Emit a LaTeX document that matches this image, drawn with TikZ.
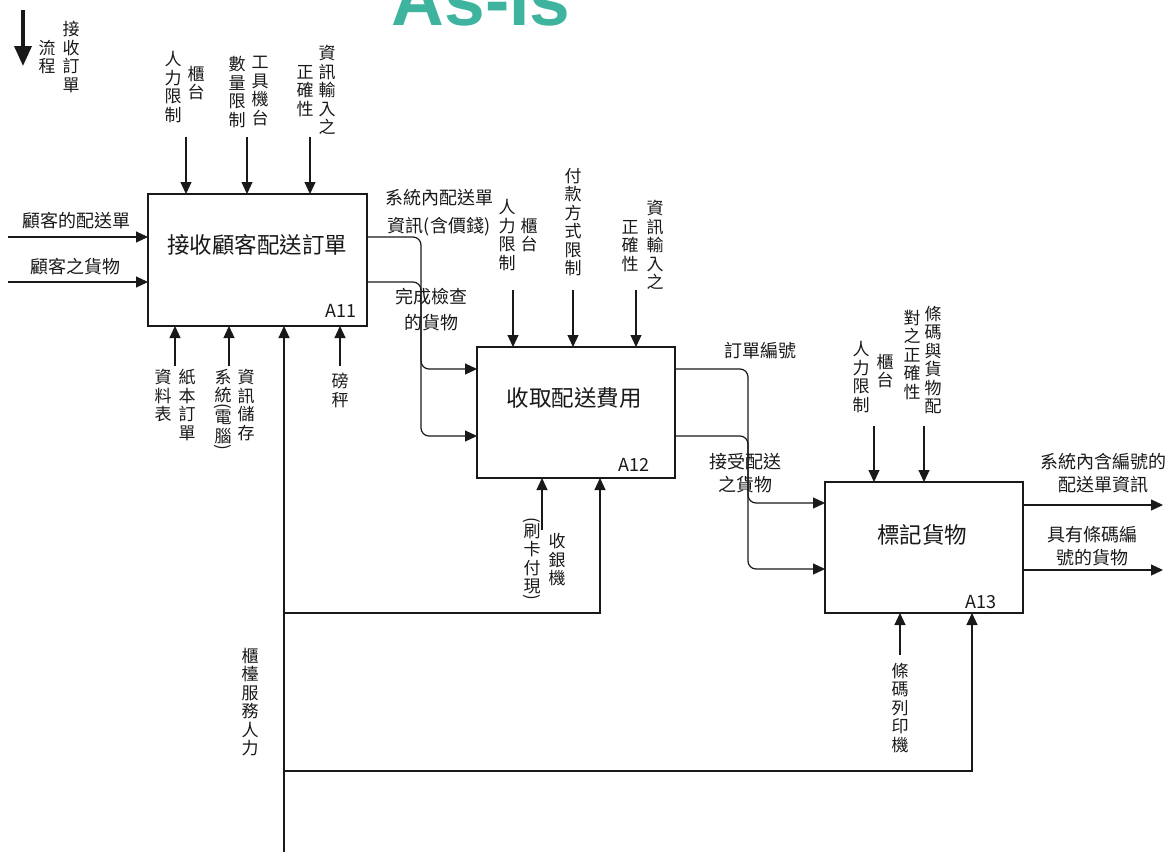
\documentclass[tikz,border=0pt]{standalone}
\usepackage{fontspec}
\usepackage{graphicx}
\setmainfont{Noto Sans CJK TC}
\newfontfamily\titlefamily{Liberation Sans}
\usetikzlibrary{arrows.meta}
\definecolor{teal1}{RGB}{62,180,158}
\definecolor{ink}{RGB}{25,25,25}
\newcommand\vfont{\fontsize{17}{18.5}\selectfont}
\newcommand\hfont{\fontsize{18}{23}\selectfont}
\newcommand\vpar[1]{\rotatebox[origin=c]{-90}{#1}}
\begin{document}
\begin{tikzpicture}[x=1pt,y=-1pt,
  flow/.style={draw=ink,line width=1.2pt,-{Triangle[length=12pt,width=11pt]}},
  rc/.style={rounded corners=8pt},
  box/.style={draw=ink,line width=1.8pt,rectangle,inner sep=0pt,outer sep=0pt,fill=white,minimum width=198pt,minimum height=131pt},
  vt/.style={font=\vfont,align=center,inner sep=0pt,text=ink},
  hl/.style={font=\hfont,align=center,inner sep=0pt,text=ink},
  ttl/.style={font=\fontsize{22.5}{26}\selectfont,inner sep=0pt,text=ink},
  idl/.style={font=\fontsize{18}{20}\selectfont,inner sep=0pt,text=ink,anchor=east}]
\useasboundingbox (0,0) rectangle (1173,852);

% title
\node[font=\titlefamily\bfseries\fontsize{73}{80}\selectfont,text=teal1,anchor=base,inner sep=0pt] (title) at (481,25) {As-Is};

% flow indicator
\coordinate (f1) at (23,10);
\coordinate (f2) at (23,66);
\draw[draw=ink,line width=3.5pt,-{Triangle[length=20pt,width=17pt]}] (f1) -- (f2);
\node[vt] (fl1) at (71,57) {接\\收\\訂\\單};
\node[vt] (fl2) at (47,57) {流\\程};

% boxes
\node[box,minimum width=219pt,minimum height=132pt] (A11) at (257.5,260) {};
\node[box] (A12) at (576,412.5) {};
\node[box] (A13) at (924,547.5) {};
\node[ttl] (t11) at (257,245) {接收顧客配送訂單};
\node[ttl] (t12) at (574,398) {收取配送費用};
\node[ttl] (t13) at (922,535) {標記貨物};
\node[idl] (id11) at (357,311) {A11};
\node[idl] (id12) at (650,465) {A12};
\node[idl] (id13) at (997,602) {A13};

% inputs to A11
\coordinate (in1) at (8,237);
\coordinate (in2) at (8,282);
\draw[flow] (in1) -- (in1 -| A11.west);
\draw[flow] (in2) -- (in2 -| A11.west);
\node[hl] (li1) at (76,221) {顧客的配送單};
\node[hl] (li2) at (75,267) {顧客之貨物};

% controls A11
\coordinate (c11) at (186,137);
\coordinate (c12) at (247,137);
\coordinate (c13) at (310,137);
\draw[flow] (c11) -- (c11 |- A11.north);
\draw[flow] (c12) -- (c12 |- A11.north);
\draw[flow] (c13) -- (c13 |- A11.north);
\node[vt] (a11c1a) at (196,83) {櫃\\台};
\node[vt] (a11c1b) at (173,87) {人\\力\\限\\制};
\node[vt] (a11c2a) at (260,91) {工\\具\\機\\台};
\node[vt] (a11c2b) at (237,92) {數\\量\\限\\制};
\node[vt] (a11c3a) at (327,90) {資\\訊\\輸\\入\\之};
\node[vt] (a11c3b) at (305,91) {正\\確\\性};

% mechanisms A11
\coordinate (m11) at (175,366);
\coordinate (m12) at (229,366);
\coordinate (m14) at (340,366);
\draw[flow] (m11) -- (m11 |- A11.south);
\draw[flow] (m12) -- (m12 |- A11.south);
\draw[flow] (m14) -- (m14 |- A11.south);
\node[vt,anchor=north] (a11m1a) at (187,369) {紙\\本\\訂\\單};
\node[vt,anchor=north] (a11m1b) at (163,369) {資\\料\\表};
\node[vt,anchor=north] (a11m2a) at (246,369) {資\\訊\\儲\\存};
\node[vt,anchor=north] (a11m2b) at (223,369) {系\\統\\[-8.5pt]\vpar{(}\\[-6.5pt]電\\腦\\[-8.5pt]\vpar{)}};
\node[vt,anchor=north] (a11m4) at (340,373) {磅\\秤};

% staff line
\coordinate (staff) at (284,852);
\coordinate (sj1) at (284,613);
\coordinate (sj2) at (284,771);
\coordinate (k12) at (600,0);
\coordinate (k13) at (972,0);
\draw[flow] (staff) -- (staff |- A11.south);
\draw[flow] (sj1) -- (k12 |- sj1) -- (k12 |- A12.south);
\draw[flow] (sj2) -- (k13 |- sj2) -- (k13 |- A13.south);
\node[vt] (staffl) at (250,702) {櫃\\檯\\服\\務\\人\\力};

% A11 -> A12
\coordinate (v1) at (421,0);
\coordinate (yC) at (0,369);
\coordinate (yD) at (0,436);
\draw[flow,rc] (A11.east |- in1) -- (v1 |- in1) -- (v1 |- yC) -- (A12.west |- yC);
\draw[flow,rc] (A11.east |- in2) -- (v1 |- in2) -- (v1 |- yD) -- (A12.west |- yD);
\node[hl,font=\fontsize{18}{28}\selectfont] (lo1) at (439,213) {系統內配送單\\資訊(含價錢)};
\node[hl,font=\fontsize{18}{26}\selectfont] (lo2) at (431,310) {完成檢查\\的貨物};

% controls A12
\coordinate (c21) at (513,290);
\coordinate (c22) at (573,290);
\coordinate (c23) at (636,290);
\draw[flow] (c21) -- (c21 |- A12.north);
\draw[flow] (c22) -- (c22 |- A12.north);
\draw[flow] (c23) -- (c23 |- A12.north);
\node[vt] (a12c1a) at (529,235) {櫃\\台};
\node[vt] (a12c1b) at (507,235) {人\\力\\限\\制};
\node[vt] (a12c2) at (573,222) {付\\款\\方\\式\\限\\制};
\node[vt] (a12c3a) at (655,245) {資\\訊\\輸\\入\\之};
\node[vt] (a12c3b) at (630,246) {正\\確\\性};

% mechanism A12
\coordinate (m21) at (542,530);
\draw[flow] (m21) -- (m21 |- A12.south);
\node[vt] (a12m1a) at (557,560) {收\\銀\\機};
\node[vt] (a12m1b) at (532,560) {\vpar{(}\\[-6.5pt]刷\\卡\\付\\現\\[-8.5pt]\vpar{)}};

% A12 -> A13
\coordinate (v2) at (748,0);
\coordinate (yE) at (0,503);
\coordinate (yF) at (0,569);
\draw[flow,rc] (A12.east |- yC) -- (v2 |- yC) -- (v2 |- yE) -- (A13.west |- yE);
\draw[flow,rc] (A12.east |- yD) -- (v2 |- yD) -- (v2 |- yF) -- (A13.west |- yF);
\node[hl] (lo3) at (760,351) {訂單編號};
\node[hl] (lo4) at (745,473.5) {接受配送\\之貨物};

% controls A13
\coordinate (c31) at (874,426);
\coordinate (c32) at (924,426);
\draw[flow] (c31) -- (c31 |- A13.north);
\draw[flow] (c32) -- (c32 |- A13.north);
\node[vt] (a13c1a) at (885,371) {櫃\\台};
\node[vt] (a13c1b) at (861,377) {人\\力\\限\\制};
\node[vt] (a13c2a) at (933,360) {條\\碼\\與\\貨\\物\\配};
\node[vt] (a13c2b) at (912,355) {對\\之\\正\\確\\性};

% mechanism A13
\coordinate (m31) at (900,655);
\draw[flow] (m31) -- (m31 |- A13.south);
\node[vt] (a13m1) at (900,708) {條\\碼\\列\\印\\機};

% outputs A13
\coordinate (out1) at (1163,505);
\coordinate (out2) at (1163,570);
\draw[flow] (A13.east |- out1) -- (out1);
\draw[flow] (A13.east |- out2) -- (out2);
\node[hl] (lo5) at (1103,473.5) {系統內含編號的\\配送單資訊};
\node[hl] (lo6) at (1092,546) {具有條碼編\\號的貨物};
\end{tikzpicture}
\end{document}
